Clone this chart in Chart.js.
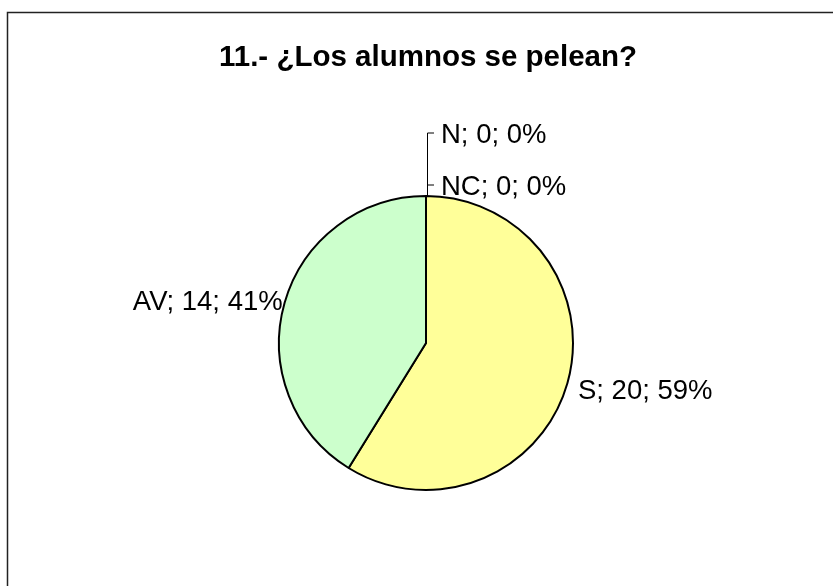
<!DOCTYPE html>
<html>
<head>
<meta charset="utf-8">
<script src="https://cdn.jsdelivr.net/npm/chart.js@4/dist/chart.umd.min.js"></script>
<style>
  html, body { margin: 0; padding: 0; background: #fff; }
  #wrap { width: 833px; height: 586px; }
</style>
</head>
<body>
<div id="wrap"><canvas id="myChart" width="833" height="586"></canvas></div>
<script>
// data
const titleText = "11.- ¿Los alumnos se pelean?";
const categories = ["S", "AV", "N", "NC"];
const counts = [20, 14, 0, 0];
const percents = ["59%", "41%", "0%", "0%"];
const colors = ["#FFFF99", "#CCFFCC", "#99CCFF", "#FF9999"];

const FONT = "'Liberation Sans', Arial, sans-serif";

// frame, title and the data labels
const decorPlugin = {
  id: "decor",
  afterDraw(chart) {
    const ctx = chart.ctx;
    ctx.save();

    // outer frame (only left and top edges show)
    ctx.strokeStyle = "#222";
    ctx.lineWidth = 1.5;
    ctx.beginPath();
    ctx.moveTo(7.5, 586);
    ctx.lineTo(7.5, 12.5);
    ctx.lineTo(833, 12.5);
    ctx.stroke();

    // title
    ctx.fillStyle = "#000";
    ctx.font = "bold 29.5px " + FONT;
    ctx.textAlign = "center";
    ctx.textBaseline = "middle";
    ctx.fillText(titleText, 428, 58);

    // labels
    ctx.font = "27.5px " + FONT;
    const arcs = chart.getDatasetMeta(0).data;
    let zeroCount = 0;
    const zeroOffsets = [62, 10];
    arcs.forEach((arc, i) => {
      const label = categories[i] + "; " + counts[i] + "; " + percents[i];
      const mid = (arc.startAngle + arc.endAngle) / 2;
      if (counts[i] === 0) {
        // leader line for the empty slices
        const x = Math.round(arc.x + Math.cos(mid) * arc.outerRadius) + 1;
        const y0 = arc.y + Math.sin(mid) * arc.outerRadius;
        const y = Math.round(y0 - zeroOffsets[zeroCount]);
        ctx.strokeStyle = "#000";
        ctx.lineWidth = 1;
        ctx.beginPath();
        ctx.moveTo(x + 0.5, y0);
        ctx.lineTo(x + 0.5, y - 1);
        ctx.lineTo(x + 7, y - 1);
        ctx.stroke();
        ctx.textAlign = "left";
        ctx.fillText(label, x + 14, y + 1);
        zeroCount++;
      } else {
        const right = Math.cos(mid) >= 0;
        const r = arc.outerRadius + (right ? 11 : 2);
        const x = arc.x + Math.cos(mid) * r;
        const y = arc.y + Math.sin(mid) * r;
        ctx.textAlign = right ? "left" : "right";
        ctx.fillText(label, x, y + (right ? 5 : 0));
      }
    });
    ctx.restore();
  }
};

let ctx = document.getElementById("myChart").getContext("2d");

let myChart = new Chart(ctx, {
  type: "pie",
  data: {
    labels: categories,
    datasets: [{
      data: counts,
      backgroundColor: colors,
      borderColor: "#000",
      borderWidth: counts.map(v => v ? 2 : 0)
    }]
  },
  options: {
    responsive: false,
    animation: false,
    layout: {
      padding: { top: 195, bottom: 95, left: 278, right: 259 }
    },
    plugins: {
      legend: { display: false },
      title: { display: false },
      tooltip: { enabled: false }
    }
  },
  plugins: [decorPlugin]
});
</script>
</body>
</html>
